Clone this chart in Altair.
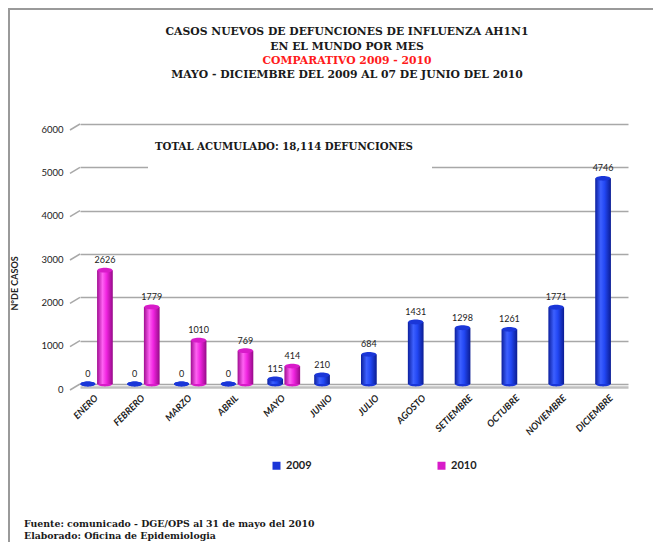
import altair as alt
import pandas as pd

months = ["ENERO", "FEBRERO", "MARZO", "ABRIL", "MAYO", "JUNIO", "JULIO",
          "AGOSTO", "SETIEMBRE", "OCTUBRE", "NOVIEMBRE", "DICIEMBRE"]
deaths_2009 = [0, 0, 0, 0, 115, 210, 684, 1431, 1298, 1261, 1771, 4746]
deaths_2010 = [2626, 1779, 1010, 769, 414]
years = ["2009", "2010"]
y_ticks = [0, 1000, 2000, 3000, 4000, 5000, 6000]

title_lines = [
    "CASOS NUEVOS DE DEFUNCIONES DE INFLUENZA  AH1N1",
    "EN EL MUNDO POR MES",
    "COMPARATIVO 2009 - 2010",
    "MAYO - DICIEMBRE DEL 2009 AL 07 DE JUNIO DEL 2010",
]
total_text = "TOTAL  ACUMULADO: 18,114 DEFUNCIONES"
footer_lines = [
    "Fuente: comunicado - DGE/OPS  al 31 de mayo del 2010",
    "Elaborado: Oficina de Epidemiologia",
]

rows = [{"mes": m, "anio": "2009", "casos": v} for m, v in zip(months, deaths_2009)]
rows += [{"mes": m, "anio": "2010", "casos": v} for m, v in zip(months, deaths_2010)]
df = pd.DataFrame(rows)

SANS = "Lato"
SERIF = "DejaVu Serif"

grad_blue = {"gradient": "linear", "x1": 0, "x2": 1, "y1": 0, "y2": 0,
             "stops": [{"offset": 0, "color": "#0c1f9e"},
                       {"offset": 0.35, "color": "#3d60ff"},
                       {"offset": 0.6, "color": "#2247f4"},
                       {"offset": 1, "color": "#0b1c92"}]}
grad_pink = {"gradient": "linear", "x1": 0, "x2": 1, "y1": 0, "y2": 0,
             "stops": [{"offset": 0, "color": "#a00c92"},
                       {"offset": 0.35, "color": "#ff62f3"},
                       {"offset": 0.6, "color": "#f024e0"},
                       {"offset": 1, "color": "#960a88"}]}

x_scale = alt.Scale(domain=months, paddingInner=0.3, paddingOuter=0)
xo_scale = alt.Scale(domain=years, paddingInner=0.08)
y_scale = alt.Scale(domain=[0, 6000], nice=False)

x_axis = alt.Axis(title=None, labelAngle=315, labelAlign="right", labelBaseline="middle",
                  labelFont=SANS, labelFontSize=9.5, labelFontWeight="bold",
                  labelFontStyle="italic", labelColor="#222222", labelPadding=9,
                  ticks=False, domainColor="#c0c0c0", domainWidth=2.5, offset=3, grid=False)
y_axis = alt.Axis(values=y_ticks, format="d", title="N°DE CASOS", titleFont=SANS,
                  titleFontSize=9, titleFontWeight="bold", titleColor="#222222",
                  titleX=-66, titleY=159, titleBaseline="middle", titleAngle=270,
                  labelFont=SANS, labelFontSize=9.5, labelColor="#222222", labelPadding=17,
                  labelOffset=5, domain=False, ticks=False,
                  gridColor="#a8a8a8", gridWidth=1.5)

X = alt.X("mes:N", scale=x_scale, axis=x_axis, sort=months)
XO = alt.XOffset("anio:N", scale=xo_scale, sort=years)
Y = alt.Y("casos:Q", scale=y_scale, axis=y_axis)

ellipse = "M -1 0 A 1 0.32 0 1 0 1 0 A 1 0.32 0 1 0 -1 0 Z"

color_enc = alt.Color("anio:N", scale=alt.Scale(domain=years, range=["#1a36d8", "#d81bc9"]),
                      legend=alt.Legend(title=None, orient="none", legendX=191, legendY=336,
                                        direction="horizontal", symbolType="square",
                                        symbolSize=64, symbolStrokeWidth=0,
                                        labelFont=SANS, labelFontSize=11,
                                        labelFontWeight="bold", labelColor="#222222",
                                        columnPadding=124, padding=0))

base = alt.Chart(df)

bottoms = base.mark_point(shape=ellipse, filled=True, size=225, opacity=1, strokeWidth=0).encode(
    x=X, xOffset=XO, y=alt.Y("zero:Q", scale=y_scale, axis=y_axis), color=color_enc
).transform_calculate(zero="0")

bars = base.mark_bar().encode(
    x=X, xOffset=XO, y=Y,
    color=alt.condition("datum.anio === '2009'", alt.value(grad_blue), alt.value(grad_pink)),
)

caps = base.mark_point(shape=ellipse, filled=True, size=225, opacity=1, strokeWidth=0).encode(
    x=X, xOffset=XO, y=Y, color=color_enc
)

values = base.mark_text(dy=-5, baseline="bottom", font=SANS, fontSize=9, color="#222222").encode(
    x=X, xOffset=XO, y=Y, text=alt.Text("casos:Q", format="d")
)

stubs = alt.Chart(pd.DataFrame({"casos": y_ticks})).mark_rule(
    color="#a8a8a8", strokeWidth=1.5, yOffset=6, y2Offset=0
).encode(x=alt.value(-10), x2=alt.value(0), y=Y, y2="casos:Q")


def text_layer(t, x, y, **style):
    return alt.Chart(alt.Data(values=[{"t": t}])).mark_text(**style).encode(
        text="t:N", x=alt.value(x), y=alt.value(y))


title_ys = [-92, -77, -63, -49]
title_layers = [
    text_layer(line, 267, yy, font=SERIF, fontSize=10.8, fontWeight="bold",
               color=("#ff1a1a" if i == 2 else "#1a1a1a"), align="center", baseline="middle")
    for i, (line, yy) in enumerate(zip(title_lines, title_ys))
]

white_box = alt.Chart(alt.Data(values=[{}])).mark_rect(color="white").encode(
    x=alt.value(68), x2=alt.value(352), y=alt.value(12), y2=alt.value(50))

total_layer = text_layer(total_text, 75, 23, font=SERIF, fontSize=10.2, fontWeight="bold",
                         color="#1a1a1a", align="left", baseline="middle")

footer_layers = [
    text_layer(line, -56, yy, font=SERIF, fontSize=9.4, fontWeight="bold",
               color="#1a1a1a", align="left", baseline="middle")
    for line, yy in zip(footer_lines, [400, 412])
]

frame_left = alt.Chart(alt.Data(values=[{}])).mark_rule(color="#9a9a9a", strokeWidth=2).encode(
    x=alt.value(-71), y=alt.value(-115), y2=alt.value(430))
frame_top = alt.Chart(alt.Data(values=[{}])).mark_rule(color="#9a9a9a", strokeWidth=2).encode(
    x=alt.value(-72), x2=alt.value(573), y=alt.value(-115))

chart = alt.layer(
    frame_left, frame_top, stubs, bottoms, bars, caps, values, white_box, total_layer,
    *title_layers, *footer_layers
).properties(
    width=548, height=260,
    padding={"left": 72, "top": 116, "right": 25, "bottom": 158},
    autosize=alt.AutoSizeParams(type="none"),
    background="white",
).configure_view(strokeWidth=0)

chart.save("out.html", embed_options={"renderer": "svg", "actions": False})
